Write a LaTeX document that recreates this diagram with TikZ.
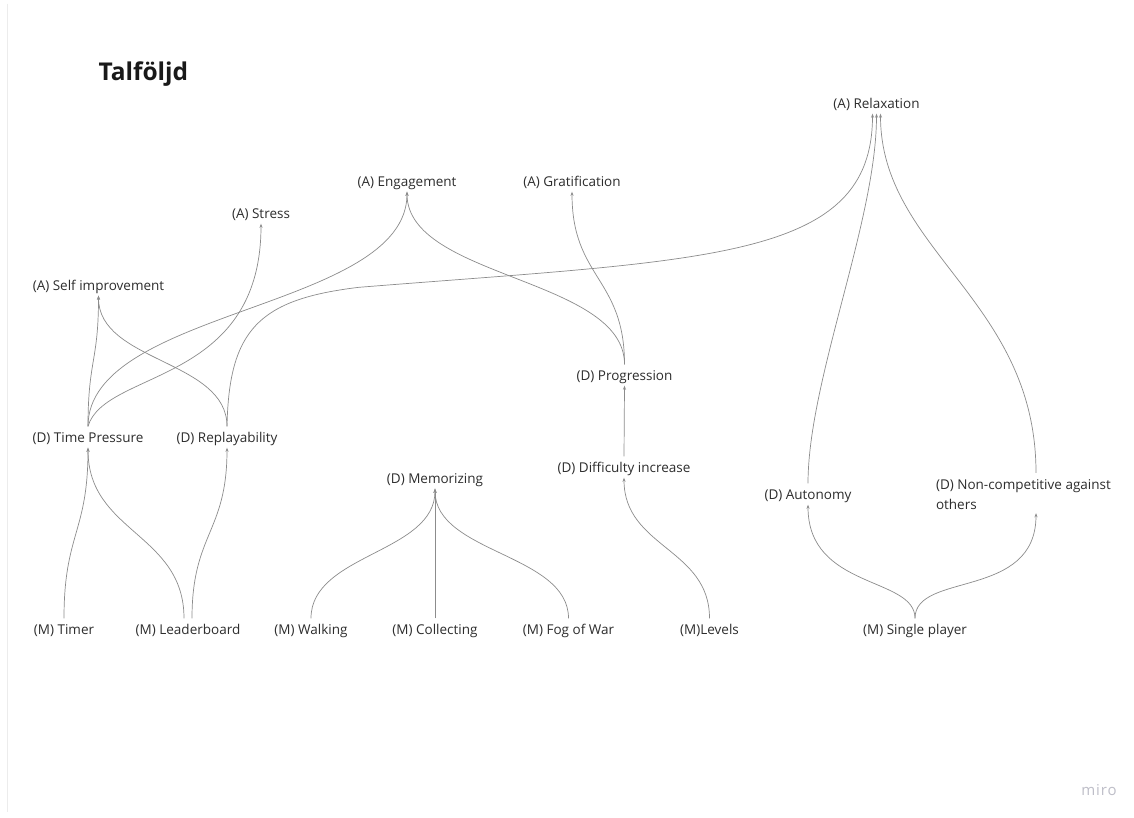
\documentclass[tikz,border=0pt]{standalone}
\usepackage{fontspec}
\setmainfont{Open Sans}
\usetikzlibrary{arrows.meta}
\definecolor{txt}{RGB}{45,45,45}
\definecolor{wire}{RGB}{140,140,140}
\definecolor{frameline}{RGB}{236,236,236}
\definecolor{logo}{RGB}{190,190,200}
\tikzset{
  lbl/.style={font=\fontsize{13.5}{20}\selectfont, text=txt, inner sep=0pt,
    minimum height=21pt, text height=11.5pt, text depth=1pt},
  lbltwo/.style={font=\fontsize{13.5}{20}\selectfont, text=txt, inner sep=0pt,
    minimum height=40pt},
  conn/.style={draw=wire, line width=0.7pt, -{Stealth[length=4pt,width=3pt]}},
}
\begin{document}
\begin{tikzpicture}[x=1pt,y=-1pt]
\fill[white] (0,0) rectangle (1134,818);
\useasboundingbox (0,0) rectangle (1134,818);
\draw[frameline, line width=1pt] (7,4) -- (7,812);

\node[anchor=west, font=\fontsize{24.5}{30}\bfseries\selectfont, text=black!90] (title) at (95,74) {Talföljd};

% aesthetics
\node[lbl] (rel) at (876.5,103) {(A) Relaxation};
\node[lbl] (eng) at (407,181) {(A) Engagement};
\node[lbl] (grat) at (572,181) {(A) Gratification};
\node[lbl] (stress) at (261,213) {(A) Stress};
\node[lbl] (self) at (98.5,285) {(A) Self improvement};

% dynamics
\node[lbl] (prog) at (624.5,375) {(D) Progression};
\node[lbl] (tp) at (88,437) {(D) Time Pressure};
\node[lbl] (rep) at (227,437) {(D) Replayability};
\node[lbl] (mem) at (435,478) {(D) Memorizing};
\node[lbl] (diff) at (624,467) {(D) Difficulty increase};
\node[lbl] (aut) at (808,494) {(D) Autonomy};
\node[lbltwo] (nc) at (1036,493) {\raisebox{-2pt}[\height][\depth]{\parbox[c]{200pt}{\raggedright (D) Non-competitive against\\others}}};

% mechanics
\node[lbl] (timer) at (64,629) {(M) Timer};
\node[lbl] (lb) at (188,629) {(M) Leaderboard};
\node[lbl] (walk) at (311,629) {(M) Walking};
\node[lbl] (coll) at (435,629) {(M) Collecting};
\node[lbl] (fog) at (568.5,629) {(M) Fog of War};
\node[lbl] (lev) at (709.5,629) {(M)Levels};
\node[lbl] (sp) at (915,629) {(M) Single player};

\node[font=\fontsize{15}{18}\selectfont\addfontfeatures{LetterSpace=6}, text=logo, inner sep=0pt] (miro) at (1099,790) {miro};

% mechanics -> dynamics
\draw[conn] (timer.north) .. controls +(0,-85) and +(0,85) .. (tp.south);
\draw[conn] ([xshift=-4pt]lb.north) .. controls +(0,-85) and +(0,85) .. (tp.south);
\draw[conn] ([xshift=4pt]lb.north) .. controls +(0,-85) and +(0,85) .. (rep.south);
\draw[conn] (walk.north) .. controls +(0,-64.5) and +(0,64.5) .. (mem.south);
\draw[conn] (coll.north) -- (mem.south);
\draw[conn] (fog.north) .. controls +(0,-64.5) and +(0,64.5) .. (mem.south);
\draw[conn] (lev.north) .. controls +(0,-70) and +(0,70) .. (diff.south);
\draw[conn] (sp.north) .. controls +(0,-42) and +(0,85) .. (aut.south);
\draw[conn] (sp.north) .. controls +(0,-47) and +(0,87) .. (nc.south);

% dynamics -> dynamics
\draw[conn] (diff.north) -- (prog.south);

% dynamics -> aesthetics
\draw[conn] (prog.north) .. controls +(0,-86.5) and +(0,86.5) .. (eng.south);
\draw[conn] (prog.north) .. controls +(0,-86.5) and +(0,86.5) .. (grat.south);
\draw[conn] (tp.north) .. controls +(0,-66) and +(0,66) .. (self.south);
\draw[conn] (tp.north) .. controls +(17,-57) and +(0,162) .. (stress.south);
\draw[conn] (tp.north) .. controls +(0,-118) and +(0,118) .. (eng.south);
\draw[conn] (rep.north) .. controls +(0,-66.5) and +(0,66.5) .. (self.south);
\draw[conn] (rep.north) .. controls +(2,-97) and +(-100,12) .. ++(132,-139)
   .. controls +(350,-28) and +(0,147) .. ([xshift=-4pt]rel.south);
\draw[conn] (aut.north) .. controls +(0,-103) and +(0,107) .. (rel.south);
\draw[conn] (nc.north) .. controls +(0,-173) and +(0,137) .. ([xshift=4pt]rel.south);
\end{tikzpicture}
\end{document}
